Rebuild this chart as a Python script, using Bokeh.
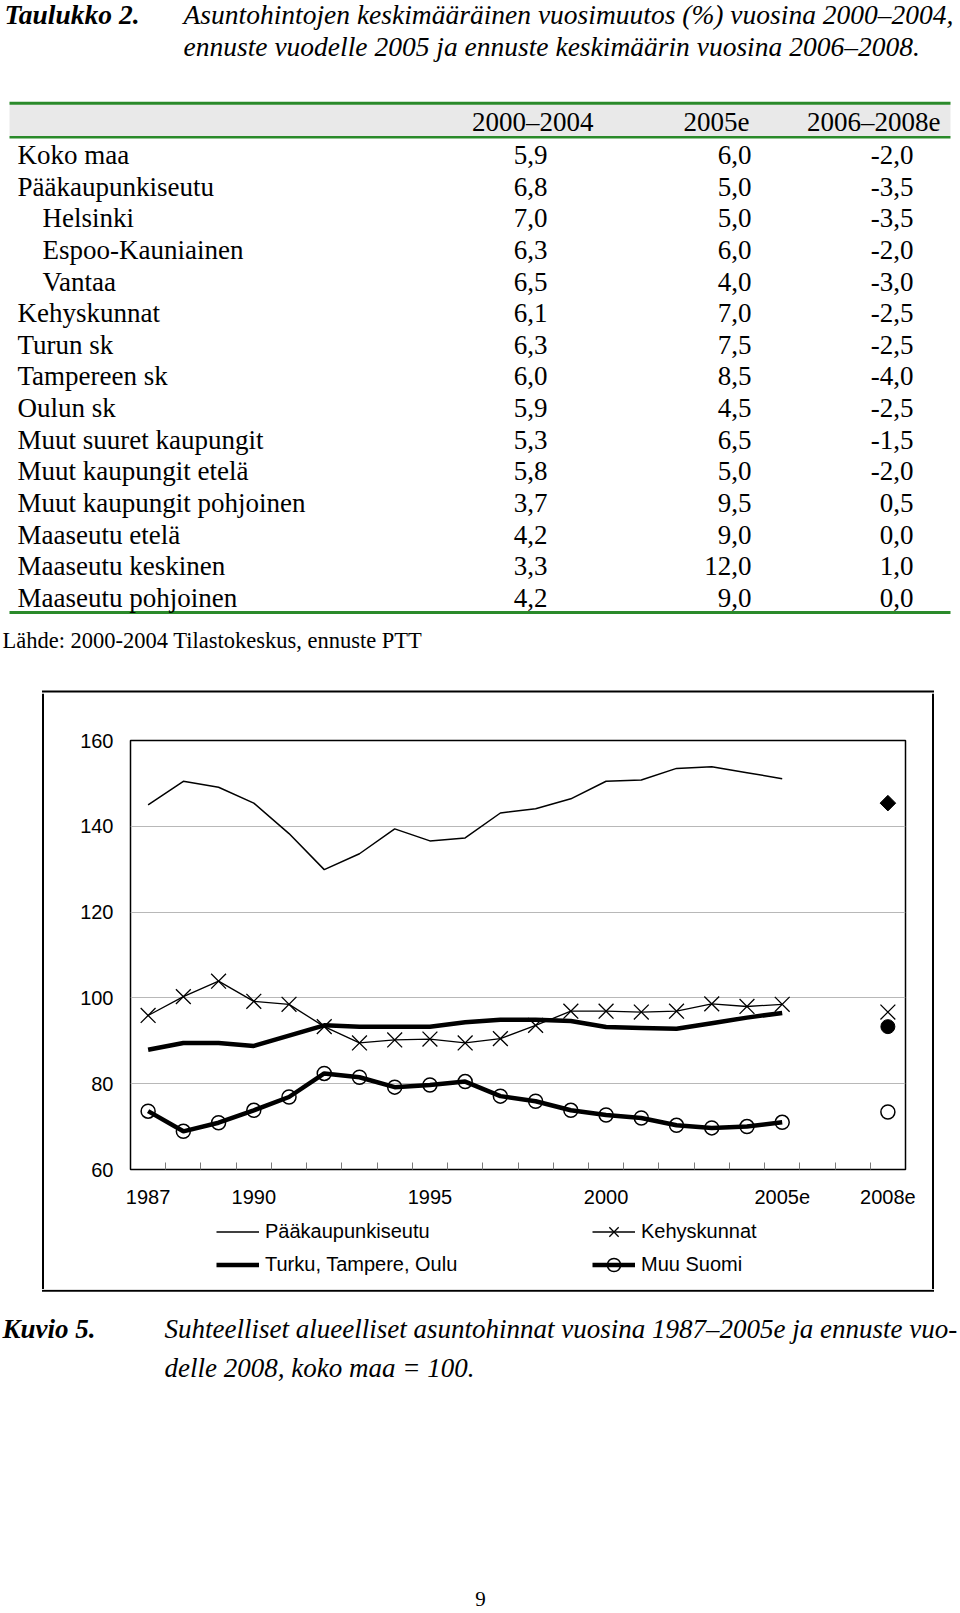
from bokeh.plotting import figure
from bokeh.layouts import column, row
from bokeh.models import (Range1d, FixedTicker, Legend, LegendItem,
                          LinearAxis, Grid)
from bokeh.embed import file_html
from bokeh.resources import INLINE
from bokeh.core.properties import value

# ---------------- table data ----------------
table_label = "Taulukko 2."
table_title = ["Asuntohintojen keskimääräinen vuosimuutos (%) vuosina 2000–2004,",
               "ennuste vuodelle 2005 ja ennuste keskimäärin vuosina 2006–2008."]
table_columns = ["2000–2004", "2005e", "2006–2008e"]
regions = ["Koko maa", "Pääkaupunkiseutu", "Helsinki", "Espoo-Kauniainen", "Vantaa",
           "Kehyskunnat", "Turun sk", "Tampereen sk", "Oulun sk", "Muut suuret kaupungit",
           "Muut kaupungit etelä", "Muut kaupungit pohjoinen", "Maaseutu etelä",
           "Maaseutu keskinen", "Maaseutu pohjoinen"]
region_indented = [False, False, True, True, True, False, False, False, False, False,
                   False, False, False, False, False]
change_2000_2004 = [5.9, 6.8, 7.0, 6.3, 6.5, 6.1, 6.3, 6.0, 5.9, 5.3, 5.8, 3.7, 4.2, 3.3, 4.2]
change_2005e = [6.0, 5.0, 5.0, 6.0, 4.0, 7.0, 7.5, 8.5, 4.5, 6.5, 5.0, 9.5, 9.0, 12.0, 9.0]
change_2006_2008e = [-2.0, -3.5, -3.5, -2.0, -3.0, -2.5, -2.5, -4.0, -2.5, -1.5, -2.0,
                     0.5, 0.0, 1.0, 0.0]
table_source = "Lähde: 2000-2004 Tilastokeskus, ennuste PTT"

# ---------------- chart data ----------------
categories = ["1987", "1988", "1989", "1990", "1991", "1992", "1993", "1994", "1995",
              "1996", "1997", "1998", "1999", "2000", "2001", "2002", "2003", "2004",
              "2005e", "2006e", "2007e", "2008e"]
history_years = categories[:19]
tick_labels = ["1987", "1990", "1995", "2000", "2005e", "2008e"]
forecast_year = "2008e"
y_ticks = [60, 80, 100, 120, 140, 160]
series_names = ["Pääkaupunkiseutu", "Turku, Tampere, Oulu", "Kehyskunnat", "Muu Suomi"]

paakaupunkiseutu = [145.0, 150.5, 149.1, 145.4, 138.3, 129.9, 133.6, 139.4, 136.6, 137.3,
                    143.1, 144.1, 146.4, 150.5, 150.8, 153.5, 153.9, 152.5, 151.1]
kehyskunnat = [95.9, 100.3, 103.9, 99.2, 98.5, 93.3, 89.5, 90.2, 90.4, 89.5,
               90.5, 93.6, 96.9, 96.9, 96.7, 96.9, 98.6, 98.0, 98.5]
turku_tampere_oulu = [87.9, 89.5, 89.5, 88.8, 91.2, 93.6, 93.3, 93.3, 93.3, 94.3,
                      94.9, 94.9, 94.6, 93.2, 93.0, 92.8, 94.1, 95.4, 96.5]
muu_suomi = [73.6, 68.9, 70.9, 73.8, 76.9, 82.4, 81.5, 79.2, 79.7, 80.5,
             77.1, 75.9, 73.8, 72.7, 72.0, 70.3, 69.7, 70.0, 71.0]
paakaupunkiseutu_2008e = 145.4
kehyskunnat_2008e = 96.7
turku_tampere_oulu_2008e = 93.3
muu_suomi_2008e = 73.4

caption_label = "Kuvio 5."
caption_lines = ["Suhteelliset alueelliset asuntohinnat vuosina 1987–2005e ja ennuste vuo-",
                 "delle 2008, koko maa = 100."]
page_number = "9"

SERIF = value("Liberation Serif")
SANS = "Liberation Sans"
GREEN = "#2a8a2a"
BOX_L, BOX_R, BOX_T, BOX_B = 42.5, 932.5, 691.0, 1290.2


def fmt(v):
    return f"{v:.1f}".replace(".", ",")


def blank_fig(width, height, x0, x1, y_top, y_bottom):
    return figure(width=width, height=height, x_range=Range1d(x0, x1),
                  y_range=Range1d(y_bottom, y_top), output_backend="svg",
                  toolbar_location=None, min_border=0, x_axis_type=None,
                  y_axis_type=None, outline_line_color=None)


# ---------------- top figure: title + table ----------------
top = blank_fig(960, 693, 0, 960, 0, 693)

top.text(x=[4], y=[13.8], text=[table_label], text_font=SERIF, text_font_style="bold italic",
         text_font_size="27.5px", text_baseline="middle")
top.text(x=[183, 183], y=[13.8, 45.5], text=table_title, text_font=SERIF,
         text_font_style="italic", text_font_size="27.5px", text_baseline="middle")

X0, X1 = 9, 950
top.quad(left=[X0], right=[X1], top=[104], bottom=[135.5], fill_color="#e9e9e9",
         line_color=None)
top.segment(x0=[X0, X0, X0], y0=[102.7, 136.7, 612], x1=[X1, X1, X1],
            y1=[102.7, 136.7, 612], line_color=GREEN, line_width=[3, 2.5, 3])

head_right = [593, 749, 940]
top.text(x=head_right, y=[121] * 3, text=table_columns, text_font=SERIF,
         text_font_size="27px", text_align="right", text_baseline="middle")

row0, pitch = 154.5, 31.64
row_y = [row0 + pitch * i for i in range(len(regions))]
label_x = [42 if ind else 17 for ind in region_indented]
top.text(x=label_x, y=row_y, text=regions, text_font=SERIF, text_font_size="27px",
         text_baseline="middle")
value_right = [547, 751, 913]
for xr, col in zip(value_right, [change_2000_2004, change_2005e, change_2006_2008e]):
    top.text(x=[xr] * len(col), y=row_y, text=[fmt(v) for v in col], text_font=SERIF,
             text_font_size="27px", text_align="right", text_baseline="middle")

top.text(x=[2], y=[640], text=[table_source], text_font=SERIF, text_font_size="22.5px",
         text_baseline="middle")

# chart box: top edge
top.segment(x0=[BOX_L - 1], y0=[BOX_T], x1=[BOX_R + 1], y1=[BOX_T], line_color="black",
            line_width=2)

# ---------------- chart ----------------
CH_W, CH_H, LEG_H = 887, 521, 75
chart = figure(width=CH_W, height=CH_H, x_range=Range1d(-0.5, len(categories) - 0.5),
               y_range=Range1d(y_ticks[0], y_ticks[-1]),
               output_backend="svg", toolbar_location=None,
               min_border_left=86, min_border_right=26, min_border_top=47,
               min_border_bottom=45, x_axis_type=None, y_axis_type=None,
               outline_line_color="black", outline_line_width=1.5,
               background_fill_color="white")

yaxis = LinearAxis(ticker=FixedTicker(ticks=y_ticks), axis_line_color=None,
                   major_tick_line_color=None, minor_tick_line_color=None,
                   major_tick_out=0, minor_tick_out=0, major_label_standoff=17,
                   major_label_text_font=SANS, major_label_text_font_size="20px",
                   major_label_text_color="black")
chart.add_layout(yaxis, "left")

tick_pos = [categories.index(t) for t in tick_labels]
xaxis = LinearAxis(ticker=FixedTicker(ticks=tick_pos,
                                      minor_ticks=[i + 0.5 for i in range(len(categories) - 1)]),
                   axis_line_color=None, major_tick_line_color=None,
                   major_tick_out=0, major_tick_in=0,
                   minor_tick_in=7, minor_tick_out=0, minor_tick_line_color="#7a7a7a",
                   major_label_standoff=20, major_label_text_font=SANS,
                   major_label_text_font_size="20px", major_label_text_color="black",
                   major_label_overrides={p: t for p, t in zip(tick_pos, tick_labels)})
chart.add_layout(xaxis, "below")

chart.add_layout(Grid(dimension=1, ticker=FixedTicker(ticks=y_ticks[1:-1]),
                      grid_line_color="#b8b8b8", grid_line_width=1))

hx = [categories.index(y) for y in history_years]
fx = categories.index(forecast_year)

STYLE = {
    "pk_line": dict(line_color="black", line_width=1.5),
    "ttu_line": dict(line_color="black", line_width=4.5),
    "k_line": dict(line_color="black", line_width=1.3),
    "k_mark": dict(marker="x", size=21, line_color="black", line_width=1.3),
    "m_line": dict(line_color="black", line_width=4.5),
    "m_mark": dict(marker="circle", size=14, fill_color=None, line_color="black", line_width=1.5),
}


def draw_series(fig):
    r_pk = fig.line(hx, paakaupunkiseutu, **STYLE["pk_line"])
    r_ttu = fig.line(hx, turku_tampere_oulu, **STYLE["ttu_line"])
    r_kl = fig.line(hx, kehyskunnat, **STYLE["k_line"])
    r_kx = fig.scatter(hx, kehyskunnat, **STYLE["k_mark"])
    r_ml = fig.line(hx, muu_suomi, **STYLE["m_line"])
    r_mc = fig.scatter(hx, muu_suomi, **STYLE["m_mark"])
    return [[r_pk], [r_ttu], [r_kl, r_kx], [r_ml, r_mc]]


draw_series(chart)

chart.scatter([fx], [paakaupunkiseutu_2008e], marker="square", angle=0.7853981634,
              size=11, fill_color="black", line_color="black")
chart.scatter([fx], [kehyskunnat_2008e], **STYLE["k_mark"])
chart.scatter([fx], [turku_tampere_oulu_2008e], marker="circle", size=14,
              fill_color="black", line_color="black")
chart.scatter([fx], [muu_suomi_2008e], marker="circle", size=14, fill_color=None,
              line_color="black", line_width=1.5)

# ---------------- legend strip (inside the chart box, under the axis) ----------------
# its ranges keep the series themselves out of view; only the legend keys show
leg_fig = figure(width=CH_W, height=LEG_H, x_range=Range1d(1000, 1001),
                 y_range=Range1d(1000, 1001), output_backend="svg",
                 toolbar_location=None, min_border=0, x_axis_type=None,
                 y_axis_type=None, outline_line_color=None)
leg_renderers = draw_series(leg_fig)

leg_common = dict(orientation="vertical", glyph_width=43, glyph_height=33, spacing=0,
                  padding=0, margin=0, border_line_color=None, background_fill_alpha=0,
                  label_standoff=6, label_height=20, label_text_font=SANS,
                  label_text_font_size="20px", label_text_color="black")
leg1 = Legend(items=[LegendItem(label=series_names[0], renderers=leg_renderers[0]),
                     LegendItem(label=series_names[1], renderers=leg_renderers[1])],
              location=(86, 8.5), **leg_common)
leg2 = Legend(items=[LegendItem(label=series_names[2], renderers=leg_renderers[2]),
                     LegendItem(label=series_names[3], renderers=leg_renderers[3])],
              location=(462, 8.5), **leg_common)
leg_fig.add_layout(leg1)
leg_fig.add_layout(leg2)

# chart box: side edges
BOX_H = CH_H + LEG_H
left_edge = blank_fig(44, BOX_H, 0, 44, 0, 1)
left_edge.segment(x0=[BOX_L], y0=[0], x1=[BOX_L], y1=[1], line_color="black", line_width=2)
right_edge = blank_fig(29, BOX_H, 931, 960, 0, 1)
right_edge.segment(x0=[BOX_R], y0=[0], x1=[BOX_R], y1=[1], line_color="black", line_width=2)

chart_row = row(left_edge, column(chart, leg_fig), right_edge)

# ---------------- bottom: caption + page number ----------------
bottom = blank_fig(960, 323, 0, 960, 1289, 1612)
bottom.segment(x0=[BOX_L - 1], y0=[BOX_B], x1=[BOX_R + 1], y1=[BOX_B], line_color="black",
               line_width=2)
bottom.text(x=[2], y=[1328.5], text=[caption_label], text_font=SERIF,
            text_font_style="bold italic", text_font_size="27px", text_baseline="middle")
bottom.text(x=[164, 164], y=[1328.5, 1367.5], text=caption_lines, text_font=SERIF,
            text_font_style="italic", text_font_size="27px", text_baseline="middle")
bottom.text(x=[480], y=[1598], text=[page_number], text_font=SERIF, text_font_size="21px",
            text_align="center", text_baseline="middle")

page = column(top, chart_row, bottom)
open("out.html", "w").write(file_html(page, INLINE))
